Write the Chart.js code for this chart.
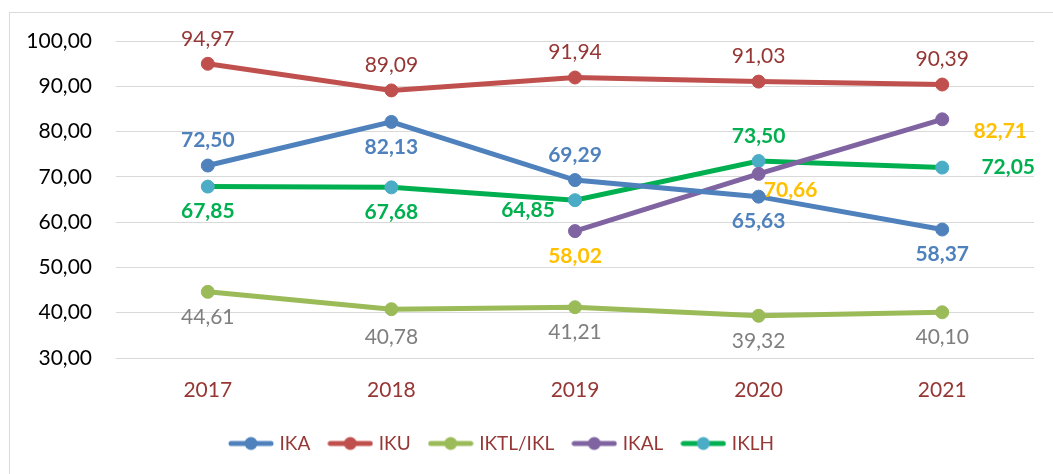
<!DOCTYPE html>
<html>
<head>
<meta charset="utf-8">
<script src="https://cdn.jsdelivr.net/npm/chart.js@4.4.1/dist/chart.umd.min.js"></script>
<style>
  html, body { margin: 0; padding: 0; background: #fff; width: 1053px; height: 474px; overflow: hidden; }
  #frame { position: absolute; left: 9px; top: 12px; width: 1100px; height: 520px; border-left: 1px solid #d9d9d9; border-top: 1px solid #d9d9d9; }
  #wrap { position: absolute; left: 0; top: 0; width: 1053px; height: 474px; }
</style>
</head>
<body>
<div id="frame"></div>
<div id="wrap"><canvas id="c" width="1053" height="474"></canvas></div>
<script>
// ---- data ----
const categories = ['2017', '2018', '2019', '2020', '2021'];
const seriesNames = ['IKA', 'IKU', 'IKTL/IKL', 'IKAL', 'IKLH'];
const ika  = [72.50, 82.13, 69.29, 65.63, 58.37];
const iku  = [94.97, 89.09, 91.94, 91.03, 90.39];
const iktl = [44.61, 40.78, 41.21, 39.32, 40.10];
const ikal = [null, null, 58.02, 70.66, 82.71];
const iklh = [67.85, 67.68, 64.85, 73.50, 72.05];
const yTicks = [30, 40, 50, 60, 70, 80, 90, 100];

// ---- styles ----
const lineColors  = ['#4F81BD', '#C0504D', '#9BBB59', '#8064A2', '#00B050'];
const pointColors = ['#4F81BD', '#C0504D', '#9BBB59', '#8064A2', '#4BACC6'];
const labelColors = ['#4F81BD', '#953735', '#7F7F7F', '#FFC000', '#00B050'];
const labelBold   = [true, false, false, true, true];
// label offsets [dx, dy] relative to point
const A = [0, -25], B = [0, 25];
const labelOffsets = [
  [A, B, A, B, B],
  [A, A, A, A, A],
  [B, [0, 28], B, B, B],
  [null, null, B, [32, 16], [58, 12]],
  [B, B, [-47, 10], A, [66, 0]]
];
const FONT = "Lato, 'Open Sans', sans-serif";
const fmt = v => v.toFixed(2).replace('.', ',');

const dataArrays = [ika, iku, iktl, ikal, iklh];
const datasets = dataArrays.map((d, i) => ({
  label: seriesNames[i],
  data: d,
  borderColor: lineColors[i],
  backgroundColor: pointColors[i],
  pointBackgroundColor: pointColors[i],
  pointBorderColor: pointColors[i],
  borderWidth: 5,
  pointRadius: 6.5,
  pointHoverRadius: 6.5,
  pointBorderWidth: 1,
  tension: 0,
  spanGaps: false
}));

function legendIcon(i) {
  const c = document.createElement('canvas');
  c.width = 46; c.height = 16;
  const x = c.getContext('2d');
  x.strokeStyle = lineColors[i];
  x.lineWidth = 5;
  x.lineCap = 'round';
  x.beginPath(); x.moveTo(3, 8); x.lineTo(43, 8); x.stroke();
  x.fillStyle = pointColors[i];
  x.beginPath(); x.arc(23, 8, 6.5, 0, Math.PI * 2); x.fill();
  return c;
}
const icons = seriesNames.map((_, i) => legendIcon(i));

const labelPlugin = {
  id: 'valueLabels',
  afterLayout(chart) {
    // place the legend where the original has it
    const lg = chart.legend;
    if (lg) { lg.left = 232 - lg.options.labels.padding; }
  },
  afterDatasetsDraw(chart) {
    const ctx = chart.ctx;
    ctx.save();
    ctx.textAlign = 'center';
    ctx.textBaseline = 'middle';
    chart.data.datasets.forEach((ds, i) => {
      const meta = chart.getDatasetMeta(i);
      meta.data.forEach((pt, j) => {
        const v = ds.data[j];
        if (v === null || v === undefined) return;
        const off = labelOffsets[i][j] || [0, -25];
        ctx.font = (labelBold[i] ? 'bold ' : '') + '21px ' + FONT;
        ctx.fillStyle = labelColors[i];
        ctx.fillText(fmt(v), pt.x + off[0], pt.y + off[1]);
      });
    });
    ctx.restore();
  }
};

new Chart(document.getElementById('c'), {
  type: 'line',
  data: { labels: categories, datasets },
  plugins: [labelPlugin],
  options: {
    responsive: false,
    animation: false,
    events: [],
    layout: { padding: { left: 0, right: 19, top: 41, bottom: 11 } },
    plugins: {
      tooltip: { enabled: false },
      legend: {
        position: 'bottom',
        align: 'start',
        labels: {
          usePointStyle: true,
          pointStyleWidth: 38,
          padding: 21,
          color: '#953735',
          font: { family: FONT, size: 19 },
          generateLabels(chart) {
            const items = Chart.defaults.plugins.legend.labels.generateLabels(chart);
            items.forEach((it, k) => { it.pointStyle = icons[k]; });
            return items;
          }
        }
      }
    },
    scales: {
      x: {
        offset: true,
        grid: { display: false, drawTicks: false },
        border: { display: false },
        ticks: { color: '#953735', font: { family: FONT, size: 21 }, padding: 20 },
        afterFit(s) { s.height = 55; }
      },
      y: {
        min: 30, max: 100,
        afterBuildTicks(s) { s.ticks = yTicks.map(v => ({ value: v })); },
        grid: { color: '#d9d9d9', lineWidth: 1, drawTicks: false },
        border: { display: false },
        ticks: { color: '#000', font: { family: FONT, size: 21 }, padding: 24, callback: v => fmt(v) },
        afterFit(s) { s.width = 116; }
      }
    }
  }
});
</script>
</body>
</html>
